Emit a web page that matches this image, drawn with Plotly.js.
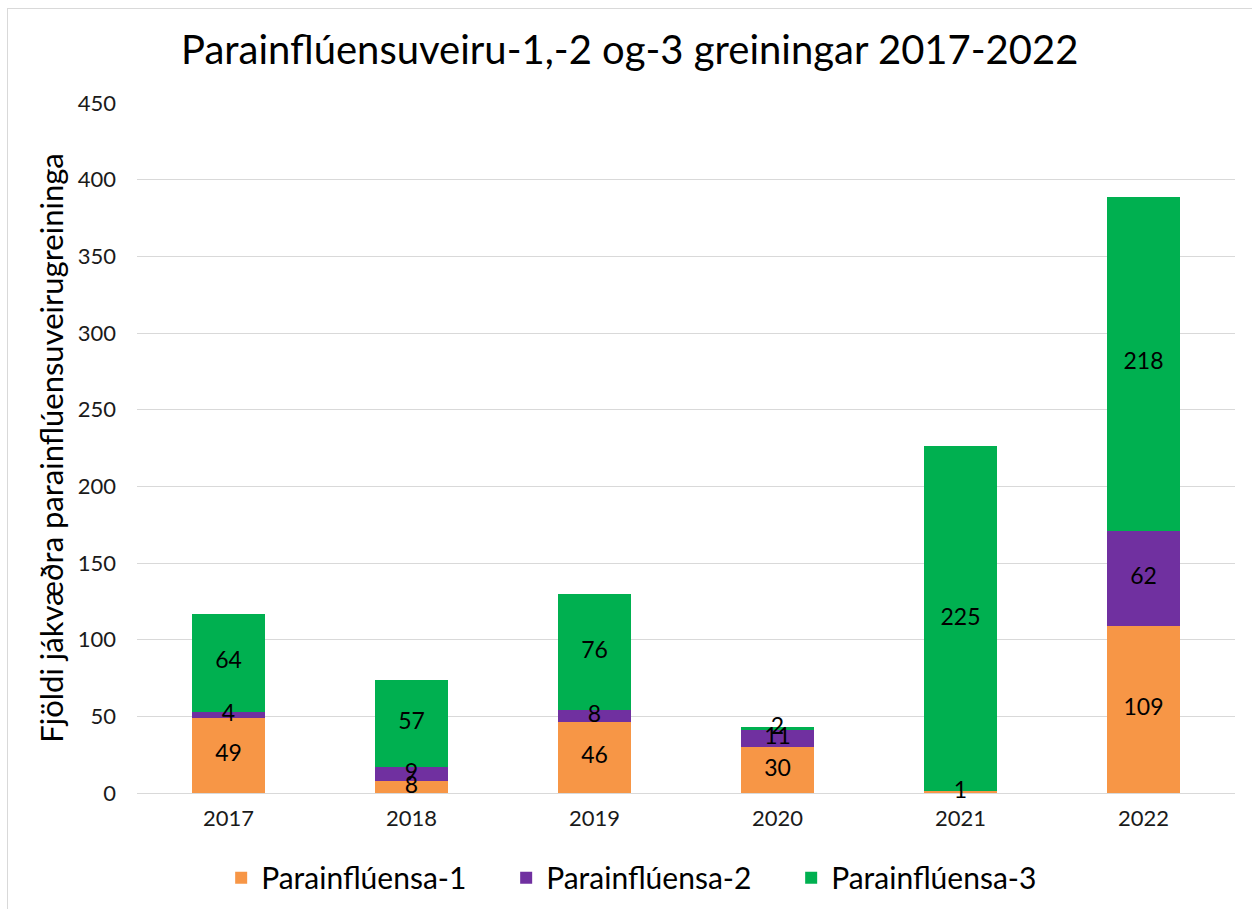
<!DOCTYPE html>
<html>
<head>
<meta charset="utf-8">
<script src="https://cdn.plot.ly/plotly-3.0.1.min.js"></script>
<style>
  html, body { margin: 0; padding: 0; background: #fff; }
  #wrap { position: relative; width: 1252px; height: 909px; overflow: hidden; }
  #chart { position: absolute; left: 0; top: 0; width: 1252px; height: 909px; }
  #frame { position: absolute; left: 7px; top: 8px; width: 1260px; height: 920px; border: 1px solid #d9d9d9; pointer-events: none; }
</style>
</head>
<body>
<div id="wrap">
  <div id="chart"></div>
  <div id="frame"></div>
</div>
<script>
const years = ["2017", "2018", "2019", "2020", "2021", "2022"];
const para1 = [49, 8, 46, 30, 1, 109];
const para2 = [4, 9, 8, 11, 0, 62];
const para3 = [64, 57, 76, 2, 225, 218];
const seriesNames = ["Parainflúensa-1", "Parainflúensa-2", "Parainflúensa-3"];
const seriesColors = ["#F79646", "#7030A0", "#00B050"];
const yTicks = [0, 50, 100, 150, 200, 250, 300, 350, 400, 450];

const FONT = "Lato, 'Open Sans', sans-serif";
const series = [para1, para2, para3];

const barTraces = series.map((vals, i) => ({
  type: "bar",
  name: seriesNames[i],
  x: years,
  y: vals,
  marker: { color: seriesColors[i], line: { width: 0 } },
  hoverinfo: "x+y+name"
}));

// data labels centred on each stacked segment (positions derived from the data)
const labelTraces = series.map((vals, i) => {
  const mids = vals.map((v, k) => {
    let base = 0;
    for (let j = 0; j < i; j++) base += series[j][k];
    return base + v / 2;
  });
  return {
    type: "scatter",
    mode: "text",
    x: years,
    y: mids,
    text: vals.map(v => v ? String(v) : ""),
    textposition: "middle center",
    textfont: { family: FONT, size: 23, color: "#000" },
    showlegend: false,
    hoverinfo: "skip",
    cliponaxis: false
  };
});

const layout = {
  width: 1252,
  height: 909,
  barmode: "stack",
  bargap: 0.606,
  paper_bgcolor: "#fff",
  plot_bgcolor: "#fff",
  margin: { l: 137, r: 17, t: 103, b: 116, autoexpand: false },
  title: {
    text: "Parainflúensuveiru-1,-2 og-3 greiningar 2017-2022",
    font: { family: FONT, size: 40, color: "#000" },
    x: 0.503, xanchor: "center",
    y: 0.945, yanchor: "middle"
  },
  xaxis: {
    type: "category",
    showgrid: false,
    showline: false,
    zeroline: false,
    ticks: "",
    tickfont: { family: FONT, size: 22, color: "#1a1a1a" },
    ticklabelstandoff: 10
  },
  yaxis: {
    range: [0, 450],
    tickvals: yTicks,
    ticktext: yTicks.map(String),
    showgrid: true,
    gridcolor: "#d9d9d9",
    gridwidth: 1,
    zeroline: true,
    zerolinecolor: "#d9d9d9",
    showline: false,
    ticks: "",
    ticklabelstandoff: 20,
    tickfont: { family: FONT, size: 22, color: "#1a1a1a" },
    title: {
      text: "Fjöldi jákvæðra parainflúensuveirugreininga",
      font: { family: FONT, size: 31, color: "#000" },
      standoff: 4
    }
  },
  showlegend: true,
  legend: {
    orientation: "h",
    x: 0.466, xanchor: "center",
    y: -0.085, yanchor: "top",
    font: { family: FONT, size: 30, color: "#000" },
    traceorder: "normal",
    itemwidth: 30,
    entrywidth: 240,
    entrywidthmode: "pixels"
  }
};

Plotly.newPlot("chart", barTraces.concat(labelTraces), layout, { displayModeBar: false, staticPlot: true });
</script>
</body>
</html>
